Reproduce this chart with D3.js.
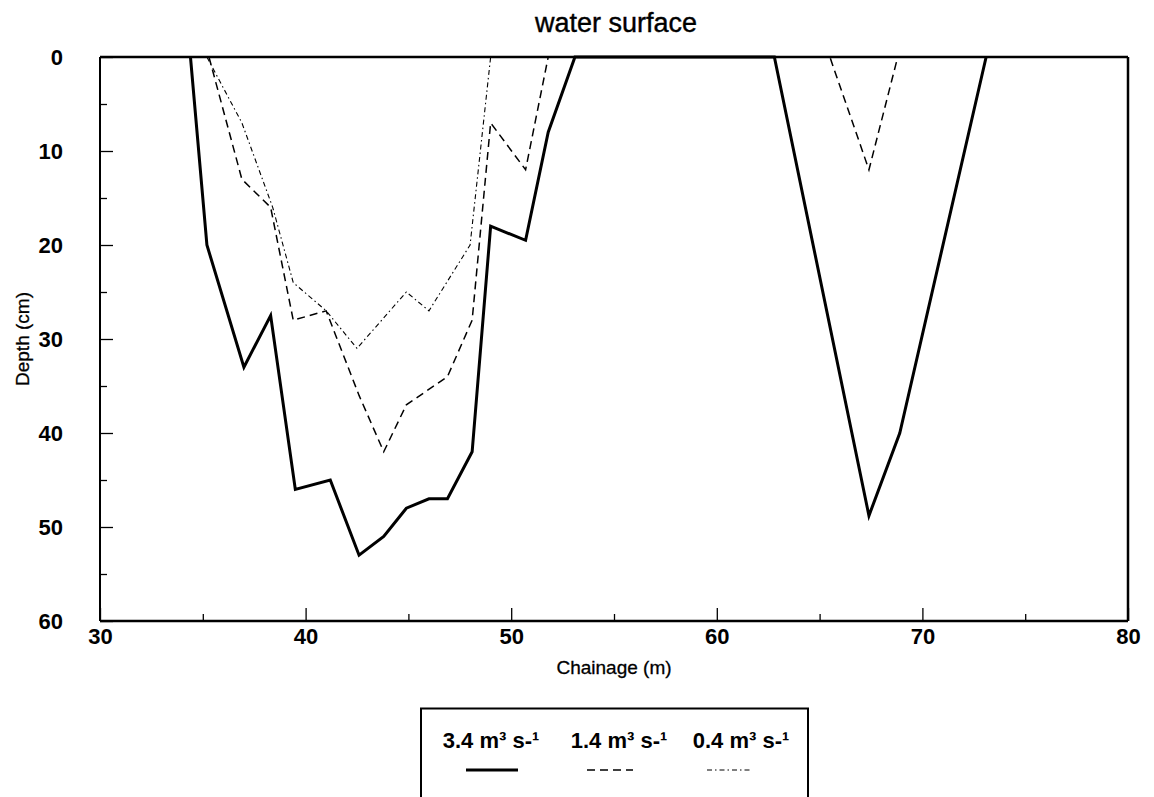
<!DOCTYPE html>
<html><head><meta charset="utf-8">
<script src="https://cdn.jsdelivr.net/npm/d3@7"></script>
<style>body{margin:0;background:#fff;} svg{display:block;}</style>
</head><body>
<script>
// ---- data ----
const chainage34 = [34.4, 35.2, 37.0, 38.3, 39.5, 41.2, 42.6, 43.8, 44.9, 46.0, 46.9, 48.1, 49.0, 50.7, 51.8, 53.1, 62.8, 67.4, 68.9, 73.1];
const depth34    = [0, 20, 33, 27.5, 46, 45, 53, 51, 48, 47, 47, 42, 18, 19.5, 8, 0, 0, 48.8, 40, 0];
const chainage14 = [35.3, 36.9, 38.3, 39.4, 41.0, 42.6, 43.8, 44.9, 46.9, 48.1, 49.0, 50.7, 51.8, 65.5, 67.4, 68.8];
const depth14    = [0, 13, 16, 28, 27, 36, 42, 37, 34, 28, 7, 12, 0, 0, 12, 0];
const chainage04 = [35.2, 36.9, 38.4, 39.4, 41.0, 42.5, 44.9, 46.0, 48.0, 49.0];
const depth04    = [0, 7, 16, 24, 27, 31, 25, 27, 20, 0];
const seriesNames = ["3.4 m³ s-¹", "1.4 m³ s-¹", "0.4 m³ s-¹"];
const xTicks = [30, 40, 50, 60, 70, 80];
const yTicks = [0, 10, 20, 30, 40, 50, 60];
const titleText = "water surface";
const xLabel = "Chainage (m)";
const yLabel = "Depth (cm)";

const W = 1154, H = 797;
const m = {left: 100, right: 1128, top: 57, bottom: 621};
const svg = d3.select("body").append("svg").attr("width", W).attr("height", H);
const x = d3.scaleLinear().domain([30, 80]).range([m.left, m.right]);
const y = d3.scaleLinear().domain([0, 60]).range([m.top, m.bottom]);
const font = "'Liberation Sans', Arial, sans-serif";

const styles = [
  {w: 3, dash: null},
  {w: 1.5, dash: "8,5"},
  {w: 1.1, dash: "5,3,1.5,3"}
];
const series = [
  d3.zip(chainage34, depth34),
  d3.zip(chainage14, depth14),
  d3.zip(chainage04, depth04)
];
const line = d3.line().x(d => x(d[0])).y(d => y(d[1]));
series.forEach((s, i) => {
  svg.append("path").datum(s).attr("d", line)
    .attr("fill", "none").attr("stroke", "#000")
    .attr("stroke-width", styles[i].w)
    .attr("stroke-dasharray", styles[i].dash)
    .attr("stroke-linejoin", "miter");
});

// axes
const xAxisMinor = d3.axisBottom(x).tickValues(d3.range(35, 80, 10)).tickSize(-7).tickFormat("");
const xAxis = d3.axisBottom(x).tickValues(xTicks).tickSize(-13).tickPadding(7).tickFormat(d3.format("d"));
const yAxisMinor = d3.axisLeft(y).tickValues(d3.range(5, 60, 10)).tickSize(-7).tickFormat("");
const yAxis = d3.axisLeft(y).tickValues(yTicks).tickSize(-13).tickPadding(37).tickFormat(d3.format("d"));

function styleAx(g){
  g.select(".domain").remove();
  g.selectAll(".tick line").attr("stroke", "#000").attr("stroke-width", 1.3);
  g.selectAll("text").attr("font-family", font).attr("font-weight", "bold").attr("font-size", 22).attr("fill", "#000");
}
svg.append("g").attr("transform", `translate(0,${m.bottom})`).call(xAxisMinor).call(styleAx);
svg.append("g").attr("transform", `translate(0,${m.bottom})`).call(xAxis).call(styleAx);
svg.append("g").attr("transform", `translate(${m.left},0)`).call(yAxisMinor).call(styleAx);
svg.append("g").attr("transform", `translate(${m.left},0)`).call(yAxis).call(styleAx);

// frame
svg.append("line").attr("x1", m.left).attr("x2", m.right).attr("y1", m.top).attr("y2", m.top).attr("stroke", "#000").attr("stroke-width", 2.5);
svg.append("line").attr("x1", m.left).attr("x2", m.right).attr("y1", m.bottom).attr("y2", m.bottom).attr("stroke", "#000").attr("stroke-width", 2.5);
svg.append("line").attr("x1", m.left).attr("x2", m.left).attr("y1", m.top).attr("y2", m.bottom).attr("stroke", "#000").attr("stroke-width", 2);
svg.append("line").attr("x1", m.right).attr("x2", m.right).attr("y1", m.top).attr("y2", m.bottom).attr("stroke", "#000").attr("stroke-width", 2.5);

// titles
svg.append("text").attr("x", 616).attr("y", 32).attr("text-anchor", "middle")
  .attr("font-family", font).attr("font-size", 27).attr("stroke", "#000").attr("stroke-width", 0.4).text(titleText);
svg.append("text").attr("x", 614).attr("y", 674).attr("text-anchor", "middle")
  .attr("font-family", font).attr("font-size", 19).attr("stroke", "#000").attr("stroke-width", 0.3).text(xLabel);
svg.append("text").attr("transform", `translate(29,${(m.top + m.bottom) / 2}) rotate(-90)`).attr("text-anchor", "middle")
  .attr("font-family", font).attr("font-size", 19).attr("stroke", "#000").attr("stroke-width", 0.3).text(yLabel);

// legend
const lg = svg.append("g");
lg.append("rect").attr("x", 421).attr("y", 708.5).attr("width", 387).attr("height", 100)
  .attr("fill", "none").attr("stroke", "#000").attr("stroke-width", 2);
const legX = [491, 619, 741];
const legLine = [[466, 518], [587, 633], [707, 752]];
seriesNames.forEach((n, i) => {
  lg.append("text").attr("x", legX[i]).attr("y", 748).attr("text-anchor", "middle")
    .attr("font-family", font).attr("font-weight", "bold").attr("font-size", 22).text(n);
  lg.append("line").attr("x1", legLine[i][0]).attr("x2", legLine[i][1]).attr("y1", 770).attr("y2", 770)
    .attr("stroke", "#000").attr("stroke-width", styles[i].w).attr("stroke-dasharray", styles[i].dash);
});
</script>
</body></html>
